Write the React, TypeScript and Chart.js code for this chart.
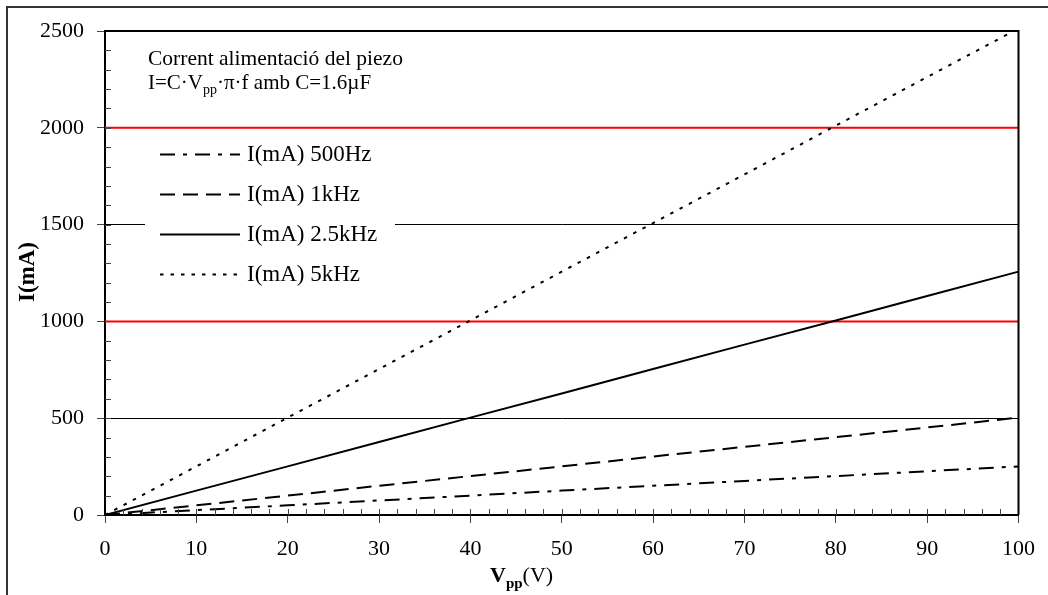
import React, { useEffect, useRef } from "react";
import { Chart, registerables } from "chart.js";

Chart.register(...registerables);

// ---- data ----
const voltages = [0, 10, 20, 30, 40, 50, 60, 70, 80, 90, 100];
const current500Hz = [0, 25, 50, 75, 100, 126, 151, 176, 201, 226, 251];
const current1kHz = [0, 50, 100, 151, 201, 251, 302, 352, 402, 452, 503];
const current2k5Hz = [0, 126, 251, 377, 503, 628, 754, 880, 1005, 1131, 1257];
const current5kHz = [0, 251, 503, 754, 1005, 1257, 1508, 1759, 2011, 2262, 2513];
const seriesLabels = ["I(mA) 500Hz", "I(mA) 1kHz", "I(mA) 2.5kHz", "I(mA) 5kHz"];
const limitLines = [1000, 2000];
const xRange = [0, 100];
const yRange = [0, 2500];
const titleLine1 = "Corrent alimentació del piezo";

const FONT = "'Liberation Serif', 'Times New Roman', serif";

const toPoints = (ys: number[]) => voltages.map((v, i) => ({ x: v, y: ys[i] }));

export default function App() {
  const canvasRef = useRef<HTMLCanvasElement | null>(null);

  useEffect(() => {
    const canvas = canvasRef.current;
    if (!canvas) return;

    const seriesStyles = [
      { dash: [15, 8, 4, 8] },
      { dash: [15, 8] },
      { dash: [] as number[] },
      { dash: [3.5, 7] },
    ];
    const seriesData = [current500Hz, current1kHz, current2k5Hz, current5kHz];

    const datasets: any[] = seriesData.map((d, i) => ({
      label: seriesLabels[i],
      data: toPoints(d),
      showLine: true,
      borderColor: "#000",
      borderWidth: 2,
      borderDash: seriesStyles[i].dash,
      borderCapStyle: "butt",
      pointRadius: 0,
      fill: false,
      isSeries: true,
    }));
    limitLines.forEach((lv) => {
      datasets.push({
        label: "limit " + lv,
        data: [
          { x: xRange[0], y: lv },
          { x: xRange[1], y: lv },
        ],
        showLine: true,
        borderColor: "#ff0000",
        borderWidth: 2,
        pointRadius: 0,
        fill: false,
        isSeries: false,
      });
    });

    const decorPlugin = {
      id: "decor",
      beforeDatasetsDraw(chart: any) {
        const ctx = chart.ctx;
        ctx.save();
        ctx.fillStyle = "#fff";
        ctx.fillRect(145, 137, 250, 155);
        ctx.restore();
      },
      afterDraw(chart: any) {
        const ctx = chart.ctx;
        const ca = chart.chartArea;
        const xs = chart.scales.x;
        const ys = chart.scales.y;
        ctx.save();

        // outer frame (top and left visible)
        ctx.strokeStyle = "#333";
        ctx.lineWidth = 2;
        ctx.beginPath();
        ctx.moveTo(7, 600);
        ctx.lineTo(7, 7);
        ctx.lineTo(1060, 7);
        ctx.stroke();

        // top and right plot border
        ctx.strokeStyle = "#000";
        ctx.lineWidth = 2;
        ctx.beginPath();
        ctx.moveTo(ca.left, ca.top);
        ctx.lineTo(ca.right, ca.top);
        ctx.lineTo(ca.right, ca.bottom);
        ctx.stroke();

        // minor ticks
        ctx.strokeStyle = "#444";
        ctx.lineWidth = 1;
        ctx.beginPath();
        for (let v = yRange[0] + 100; v < yRange[1]; v += 100) {
          const py = Math.round(ys.getPixelForValue(v)) + 0.5;
          ctx.moveTo(ca.left, py);
          ctx.lineTo(ca.left + 6, py);
        }
        for (let v = xRange[0] + 2; v < xRange[1]; v += 2) {
          const px = Math.round(xs.getPixelForValue(v)) + 0.5;
          ctx.moveTo(px, ca.bottom);
          ctx.lineTo(px, ca.bottom - 6);
        }
        ctx.stroke();

        // title text
        ctx.fillStyle = "#000";
        ctx.textBaseline = "alphabetic";
        ctx.textAlign = "left";
        ctx.font = `21.5px ${FONT}`;
        ctx.fillText(titleLine1, 148, 65);
        let x = 148;
        const parts: [string, boolean][] = [
          ["I=C·V", false],
          ["pp", true],
          ["·π·f amb C=1.6µF", false],
        ];
        parts.forEach(([t, sub]) => {
          ctx.font = sub ? `14px ${FONT}` : `21px ${FONT}`;
          ctx.fillText(t, x, sub ? 94 : 89);
          x += ctx.measureText(t).width;
        });

        // legend
        const rows = [154, 194, 234, 274];
        chart.data.datasets
          .filter((d: any) => d.isSeries)
          .forEach((d: any, i: number) => {
            const ry = rows[i] + 0.5;
            ctx.strokeStyle = "#000";
            ctx.lineWidth = 2;
            ctx.setLineDash(d.borderDash || []);
            ctx.beginPath();
            ctx.moveTo(160, ry);
            ctx.lineTo(240, ry);
            ctx.stroke();
            ctx.setLineDash([]);
            ctx.font = `23px ${FONT}`;
            ctx.textBaseline = "middle";
            ctx.fillText(d.label, 247, rows[i] + 1);
          });

        // y title
        ctx.save();
        ctx.translate(28, 272);
        ctx.rotate(-Math.PI / 2);
        ctx.font = `bold 23px ${FONT}`;
        ctx.textAlign = "center";
        ctx.textBaseline = "middle";
        ctx.fillText("I(mA)", 0, 0);
        ctx.restore();

        // x title
        ctx.textAlign = "left";
        ctx.textBaseline = "alphabetic";
        let tx = 490;
        const xparts: [string, string, number][] = [
          ["V", `bold 22px ${FONT}`, 582],
          ["pp", `bold 15px ${FONT}`, 588],
          ["(V)", `22px ${FONT}`, 582],
        ];
        xparts.forEach(([t, f, by]) => {
          ctx.font = f;
          ctx.fillText(t, tx, by);
          tx += ctx.measureText(t).width;
        });

        ctx.restore();
      },
    };

    const chart = new Chart(canvas, {
      type: "scatter",
      data: { datasets },
      options: {
        animation: false,
        responsive: false,
        maintainAspectRatio: false,
        layout: { padding: { left: 0, top: 31, right: 29, bottom: 0 } },
        plugins: {
          legend: { display: false },
          tooltip: { enabled: false },
          title: { display: false },
        },
        scales: {
          x: {
            type: "linear",
            min: xRange[0],
            max: xRange[1],
            afterFit: (s: any) => {
              s.height = 80;
            },
            ticks: {
              stepSize: 10,
              color: "#000",
              font: { family: FONT, size: 22 },
              padding: 13,
              maxRotation: 0,
              callback: (v: any) => String(v),
            },
            grid: {
              drawOnChartArea: false,
              drawTicks: true,
              tickLength: 8,
              tickColor: "#444",
              lineWidth: 1,
            },
            border: { display: true, color: "#000", width: 2 },
            title: { display: false },
          },
          y: {
            type: "linear",
            min: yRange[0],
            max: yRange[1],
            afterFit: (s: any) => {
              s.width = 105;
            },
            ticks: {
              stepSize: 500,
              color: "#000",
              font: { family: FONT, size: 22 },
              padding: 13,
              callback: (v: any) => String(v),
            },
            grid: {
              drawOnChartArea: true,
              drawTicks: true,
              tickLength: 8,
              color: "#000",
              tickColor: "#444",
              lineWidth: 1,
            },
            border: { display: true, color: "#000", width: 2 },
            title: { display: false },
          },
        },
      } as any,
      plugins: [decorPlugin],
    });

    return () => chart.destroy();
  }, []);

  return (
    <div style={{ position: "fixed", left: 0, top: 0, width: 1048, height: 595, background: "#fff" }}>
      <canvas ref={canvasRef} width={1048} height={595} style={{ display: "block" }} />
    </div>
  );
}
